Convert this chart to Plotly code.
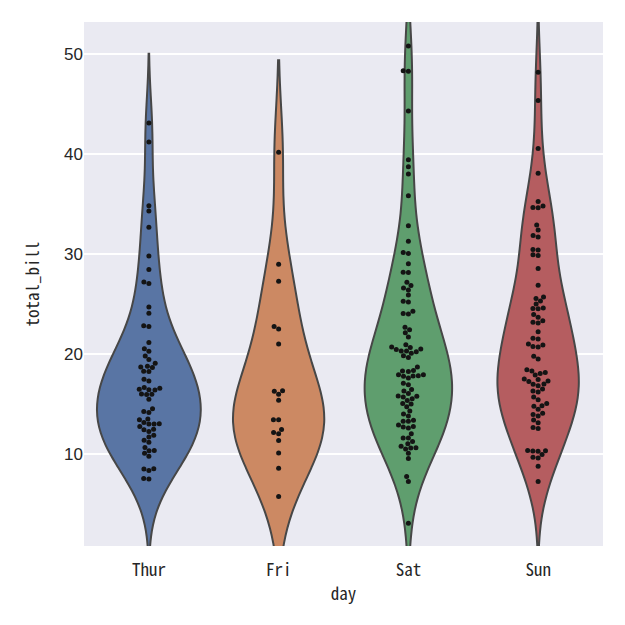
import numpy as np
import plotly.graph_objects as go

days = ["Thur", "Fri", "Sat", "Sun"]
thur = [27.20, 22.76, 17.29, 19.44, 16.66, 10.07, 32.68, 15.98, 34.83, 13.03, 18.28, 24.71, 21.16,
        10.65, 12.43, 24.08, 11.69, 13.42, 14.26, 15.95, 12.48, 29.80, 8.52, 14.52, 11.38, 22.82,
        19.08, 20.27, 11.17, 12.26, 18.26, 8.51, 10.33, 14.15, 16.00, 13.16, 17.47, 34.30, 41.19,
        27.05, 16.43, 8.35, 18.64, 11.87, 9.78, 7.51, 19.81, 28.44, 15.48, 16.58, 7.56, 10.34,
        43.11, 13.00, 13.51, 18.71, 12.74, 13.00, 16.40, 20.53, 16.47, 18.78]
fri = [28.97, 22.49, 5.75, 16.32, 22.75, 40.17, 27.28, 12.03, 21.01, 12.46, 11.35, 15.38,
       12.16, 13.42, 8.58, 15.98, 13.42, 16.27, 10.09]
sat = [20.65, 17.92, 20.29, 15.77, 39.42, 19.82, 17.81, 13.37, 12.69, 21.70, 19.65, 9.55, 18.35,
       15.06, 20.69, 17.78, 24.06, 16.31, 16.93, 18.69, 31.27, 16.04, 38.01, 26.41, 11.24, 48.27,
       20.29, 13.81, 11.02, 18.29, 17.59, 20.08, 16.45, 3.07, 20.23, 15.01, 12.02, 17.07, 26.86,
       25.28, 14.73, 10.51, 17.92, 44.30, 22.42, 20.92, 15.36, 20.49, 25.21, 18.24, 14.31, 14.00,
       7.25, 10.59, 10.63, 50.81, 15.81, 26.59, 38.73, 24.27, 12.76, 30.06, 25.89, 48.33, 13.27,
       28.17, 12.90, 28.15, 11.59, 7.74, 30.14, 20.45, 13.28, 22.12, 24.01, 15.69, 11.61, 10.77,
       15.53, 10.07, 12.60, 32.83, 35.83, 29.03, 27.18, 22.67, 17.82]
sun = [16.99, 10.34, 21.01, 23.68, 24.59, 25.29, 8.77, 26.88, 15.04, 14.78, 10.27, 35.26, 15.42,
       18.43, 14.83, 21.58, 10.33, 16.29, 16.97, 17.46, 13.94, 9.68, 30.40, 18.29, 22.23, 32.40,
       28.55, 18.04, 12.54, 10.29, 34.81, 9.94, 25.56, 19.49, 38.07, 23.95, 25.71, 17.31, 29.93,
       14.07, 13.13, 17.26, 24.55, 19.77, 29.85, 48.17, 25.00, 13.39, 16.49, 21.50, 12.66, 16.21,
       13.81, 17.51, 24.52, 20.76, 31.71, 7.25, 31.85, 16.82, 32.90, 17.89, 14.48, 9.60, 34.63,
       34.65, 23.33, 45.35, 23.17, 40.55, 20.69, 20.90, 30.46, 18.15, 23.10, 15.69]
series = [thur, fri, sat, sun]
fills = ["#5975a4", "#cc8963", "#5f9e6e", "#b55d60"]
y_ticks = [10, 20, 30, 40, 50]
y_range = [0.8, 53.2]

# plot geometry (pixels) used for the beeswarm layout
W, H = 625, 625
ML, MR, MT, MB = 84, 22, 22, 79
px_x = (W - ML - MR) / 4.0
px_y = (H - MT - MB) / (y_range[1] - y_range[0])
DOT = 5.2


def swarm_offsets(vals):
    vals = np.asarray(vals, float)
    order = np.argsort(vals, kind="stable")
    placed = []
    out = np.zeros(len(vals))
    for i in order:
        y = vals[i] * px_y
        nb = [(nx, ny) for nx, ny in placed if abs(ny - y) < DOT]
        cands = [0.0]
        for nx, ny in nb:
            dx = np.sqrt(max(DOT * DOT - (ny - y) ** 2, 0.0))
            cands += [nx + dx, nx - dx]
        cands.sort(key=lambda c: (abs(c), c))
        chosen = cands[-1]
        for c in cands:
            if all((c - nx) ** 2 + (y - ny) ** 2 >= DOT * DOT - 1e-6 for nx, ny in nb):
                chosen = c
                break
        placed.append((chosen, y))
        out[i] = chosen / px_x
    return out


def kde_peak(v, bw):
    lo, hi = v.min() - 2 * bw, v.max() + 2 * bw
    g = np.linspace(lo, hi, 400)
    dens = np.exp(-0.5 * ((g[:, None] - v[None, :]) / bw) ** 2).sum(1) / (len(v) * bw * np.sqrt(2 * np.pi))
    return dens.max()


bws = [np.asarray(s, float).std(ddof=1) * len(s) ** (-1 / 5) for s in series]
peaks = [kde_peak(np.asarray(s, float), b) for s, b in zip(series, bws)]
pmax = max(peaks)

fig = go.Figure()
for k, (name, vals, col) in enumerate(zip(days, series, fills)):
    v = np.asarray(vals, float)
    fig.add_trace(go.Violin(
        x=[k] * len(v), y=v, name=name, bandwidth=bws[k], spanmode="soft",
        scalegroup=name, scalemode="width", width=0.8 * peaks[k] / pmax,
        fillcolor=col, line=dict(color="#474747", width=2), opacity=1,
        points=False, box_visible=False, meanline_visible=False,
        hoverinfo="skip", showlegend=False))

for k, vals in enumerate(series):
    off = swarm_offsets(vals)
    fig.add_trace(go.Scatter(
        x=k + off, y=vals, mode="markers",
        marker=dict(color="#141414", size=5, line=dict(width=0)),
        showlegend=False, hoverinfo="skip"))

mono = "Noto Sans Mono CJK SC, DejaVu Sans Mono, monospace"
fig.update_layout(
    width=W, height=H,
    margin=dict(l=ML, r=MR, t=MT, b=MB),
    paper_bgcolor="white", plot_bgcolor="#eaeaf2",
    violinmode="overlay",
    xaxis=dict(range=[-0.5, 3.5], tickvals=[0, 1, 2, 3], ticktext=days,
               showgrid=False, zeroline=False, showline=False, ticks="",
               ticklabelstandoff=12,
               tickfont=dict(family=mono, size=17, color="#262626"),
               title=dict(text="day", font=dict(family=mono, size=17, color="#262626"), standoff=8)),
    yaxis=dict(range=y_range, tickvals=y_ticks, showgrid=True, gridcolor="white",
               gridwidth=1.5, zeroline=False, showline=False, ticks="",
               tickfont=dict(family="Liberation Sans, Arial", size=17, color="#262626"),
               title=dict(text="total_bill", font=dict(family=mono, size=17, color="#262626"),
                          standoff=20)),
)
fig.write_html("out.html")
